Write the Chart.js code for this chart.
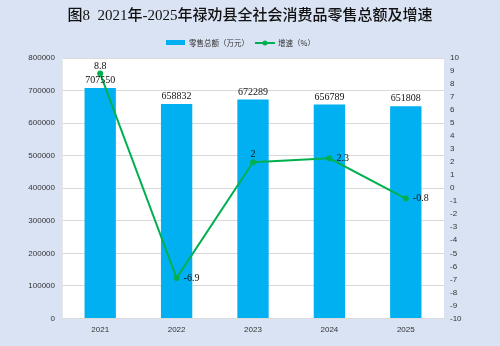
<!DOCTYPE html>
<html><head><meta charset="utf-8">
<script src="https://cdn.jsdelivr.net/npm/chart.js@4"></script>
<style>html,body{margin:0;padding:0;background:#dae3f3;}#w{width:500px;height:346px;}</style>
</head><body><div id="w"><canvas id="c"></canvas></div>
<script>
const titleText = '图8  2021年-2025年禄劝县全社会消费品零售总额及增速';
const categories = ['2021','2022','2023','2024','2025'];
const salesName = '零售总额（万元）';
const salesValues = [707550, 658832, 672289, 656789, 651808];
const growthName = '增速（%）';
const growthValues = [8.8, -6.9, 2, 2.3, -0.8];
const growthLabelPos = ['top','right','top','right','right'];

const BG = '#dae3f3', BAR = '#00b0f0', LINE = '#00b050';

const bgPlugin = {
  id: 'bg',
  beforeDraw(chart) {
    const {ctx, chartArea: a} = chart;
    ctx.save();
    ctx.fillStyle = BG; ctx.fillRect(0,0,chart.width,chart.height);
    ctx.fillStyle = '#ffffff'; ctx.fillRect(a.left, a.top, a.right-a.left, a.bottom-a.top);
    ctx.restore();
  },
  afterDraw(chart) {
    const ctx = chart.ctx;
    ctx.save();
    ctx.fillStyle = '#111';
    ctx.font = '500 15px "Liberation Serif", "Noto Sans CJK SC"';
    ctx.textAlign = 'center'; ctx.textBaseline = 'middle';
    ctx.fillText(titleText, 250, 16);
    ctx.font = '7.5px "Noto Sans CJK SC"';
    ctx.textAlign = 'left';
    ctx.fillStyle = BAR; ctx.fillRect(166, 40, 19, 5);
    ctx.fillStyle = '#333'; ctx.fillText(salesName, 189, 43);
    const tw = ctx.measureText(salesName).width;
    const lx = 189 + tw + 6;
    ctx.strokeStyle = LINE; ctx.lineWidth = 2;
    ctx.beginPath(); ctx.moveTo(lx, 43); ctx.lineTo(lx+20, 43); ctx.stroke();
    ctx.fillStyle = LINE; ctx.beginPath(); ctx.arc(lx+10, 43, 2.5, 0, Math.PI*2); ctx.fill();
    ctx.fillStyle = '#333'; ctx.fillText(growthName, lx+23, 43);
    ctx.fillStyle = '#111';
    ctx.font = '10px "Liberation Serif"';
    const barIdx = chart.data.datasets.findIndex(d => d.type === 'bar');
    const lineIdx = chart.data.datasets.findIndex(d => d.type === 'line');
    ctx.textBaseline = 'alphabetic'; ctx.textAlign = 'center';
    chart.getDatasetMeta(barIdx).data.forEach((el, i) => {
      ctx.fillText(String(salesValues[i]), el.x, el.y - 5);
    });
    chart.getDatasetMeta(lineIdx).data.forEach((el, i) => {
      if (growthLabelPos[i] === 'top') {
        ctx.textAlign = 'center'; ctx.textBaseline = 'alphabetic';
        ctx.fillText(String(growthValues[i]), el.x, el.y - 5);
      } else {
        ctx.textAlign = 'left'; ctx.textBaseline = 'middle';
        ctx.fillText(String(growthValues[i]), el.x + 7, el.y);
      }
    });
    ctx.restore();
  }
};

new Chart(document.getElementById('c'), {
  data: {
    labels: categories,
    datasets: [
      { type: 'line', label: growthName, data: growthValues, yAxisID: 'y1',
        borderColor: LINE, backgroundColor: LINE, borderWidth: 2,
        pointRadius: 3, pointBackgroundColor: LINE, pointBorderWidth: 0, tension: 0, order: 0 },
      { type: 'bar', label: salesName, data: salesValues, yAxisID: 'y',
        backgroundColor: BAR, categoryPercentage: 1, barPercentage: 0.41, order: 1 }
    ]
  },
  options: {
    responsive: true, maintainAspectRatio: false, animation: false,
    layout: { padding: { top: 58, bottom: 4, left: 0, right: 0 } },
    plugins: { legend: { display: false }, title: { display: false }, tooltip: { enabled: false } },
    scales: {
      x: {
        grid: { display: false, drawTicks: false },
        border: { display: true, color: '#d9d9d9' },
        ticks: { color: '#333', font: { size: 8, family: '"Liberation Sans"' }, padding: 7 }
      },
      y: {
        position: 'left', min: 0, max: 800000,
        ticks: { stepSize: 100000, color: '#333', font: { size: 8, family: '"Liberation Sans"' }, padding: 7,
                 callback: v => String(v) },
        grid: { color: '#d9d9d9', drawTicks: false },
        border: { display: true, color: '#e6e6e6' },
        afterFit(s) { s.width = 62; }
      },
      y1: {
        position: 'right', min: -10, max: 10,
        ticks: { stepSize: 1, color: '#333', font: { size: 8, family: '"Liberation Sans"' }, padding: 6,
                 callback: v => String(v) },
        grid: { display: false, drawTicks: false },
        border: { display: false },
        afterFit(s) { s.width = 56; }
      }
    }
  },
  plugins: [bgPlugin]
});
</script></body></html>
